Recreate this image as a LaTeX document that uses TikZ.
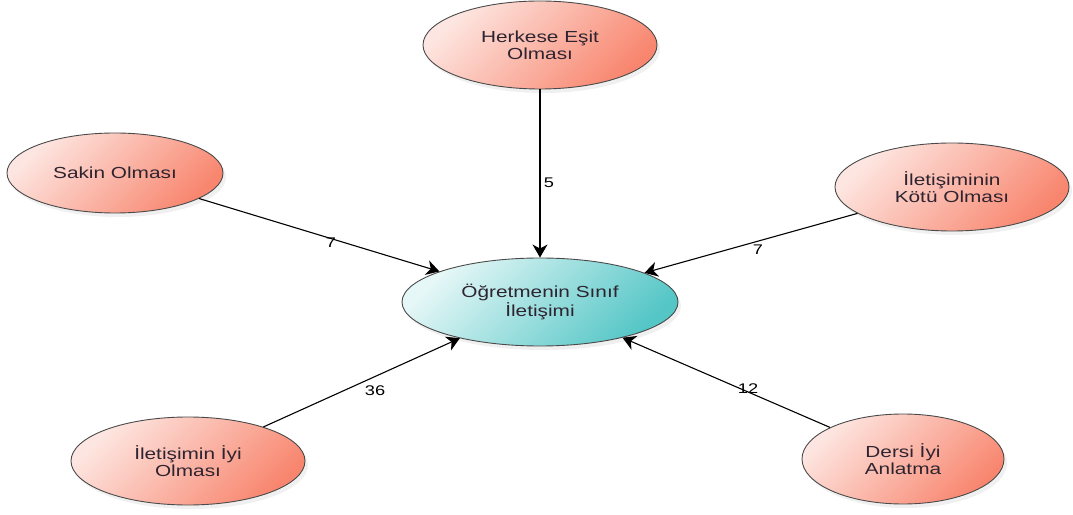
\documentclass[tikz,border=0pt]{standalone}
\usepackage{fontspec}
\setmainfont{Liberation Sans}[FakeStretch=1.3]
\usetikzlibrary{shapes.geometric,arrows.meta,shadows}

\definecolor{salmonlight}{HTML}{FDE6E1}
\definecolor{salmondark}{HTML}{F8866F}
\definecolor{tealight}{HTML}{E6F7F7}
\definecolor{tealdark}{HTML}{55C6C6}
\definecolor{edgegray}{HTML}{4A4A4A}
\definecolor{textdark}{HTML}{2E2430}

\tikzset{
  bubble/.style={ellipse, draw=edgegray, line width=0.9pt, inner sep=0pt,
    align=center, text=textdark, font=\fontsize{16}{17}\selectfont,
    shading=axis, top color=salmonlight, bottom color=salmondark, shading angle=45,
    drop shadow={opacity=0.12, shadow xshift=3pt, shadow yshift=-4pt}},
  hub/.style={bubble, top color=tealight, bottom color=tealdark, shading angle=45},
  link/.style={draw=black, line width=1.1pt,
    -{Stealth[length=13pt,width=15pt,inset=4pt]}},
  weight/.style={font=\fontsize{14}{16}\selectfont, text=black, inner sep=0pt}
}

\begin{document}
\begin{tikzpicture}[x=1pt,y=1pt]
  \useasboundingbox (0,0) rectangle (1073,514);

  % central concept
  \node[hub, minimum width=276pt, minimum height=88pt] (center) at (540,212)
    {Öğretmenin Sınıf\\İletişimi};

  % surrounding factors
  \node[bubble, minimum width=234pt, minimum height=88pt] (herkese) at (540,469)
    {Herkese Eşit\\Olması};
  \node[bubble, minimum width=216pt, minimum height=80pt] (sakin) at (115,341)
    {Sakin Olması};
  \node[bubble, minimum width=234pt, minimum height=88pt] (kotu) at (952,327)
    {İletişiminin\\Kötü Olması};
  \node[bubble, minimum width=234pt, minimum height=88pt] (iyi) at (188,53)
    {İletişimin İyi\\Olması};
  \node[bubble, minimum width=202pt, minimum height=90pt] (dersi) at (903,55)
    {Dersi İyi\\Anlatma};

  % weighted links into the centre
  \draw[link] (herkese) -- (center);
  \draw[link] (sakin) -- (center);
  \draw[link] (kotu) -- (center);
  \draw[link] (iyi) -- (center);
  \draw[link] (dersi) -- (center);

  % link weights
  \node[weight] (w1) at (549,331) {5};
  \node[weight] (w2) at (331,271) {7};
  \node[weight] (w3) at (758,264) {7};
  \node[weight] (w4) at (375,123) {36};
  \node[weight] (w5) at (748,125) {12};
\end{tikzpicture}
\end{document}
